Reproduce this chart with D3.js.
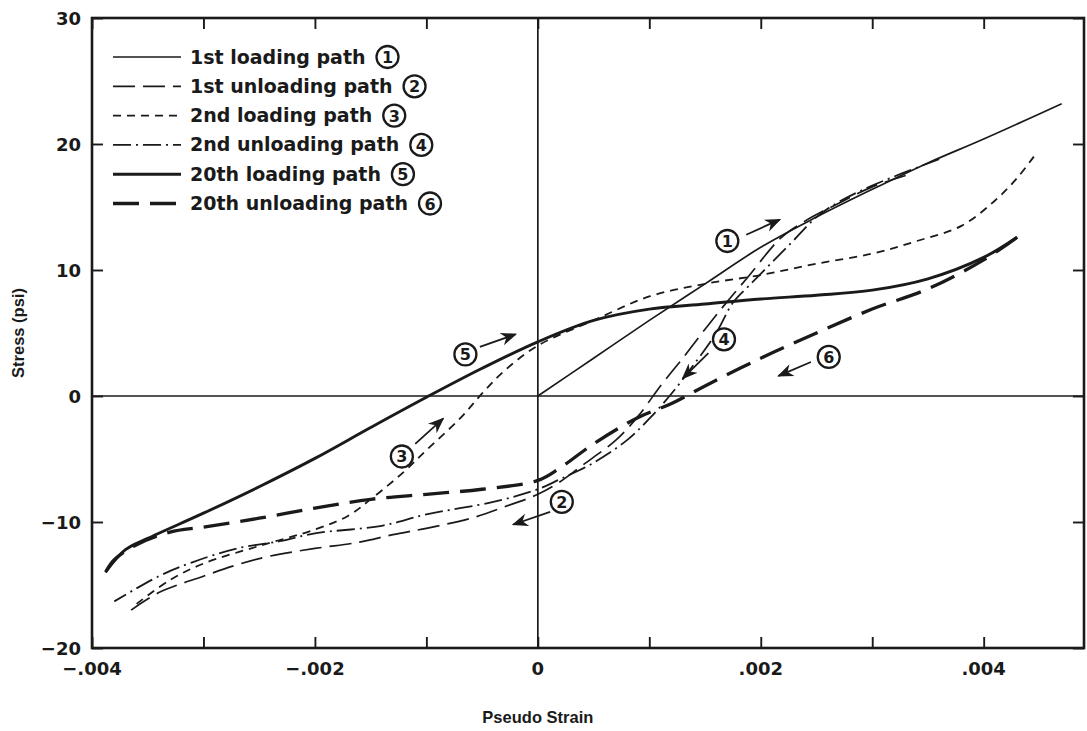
<!DOCTYPE html>
<html><head><meta charset="utf-8">
<script src="https://cdn.jsdelivr.net/npm/d3@7/dist/d3.min.js"></script>
<style>
body{margin:0;background:#fff;}
text{font-family:"DejaVu Sans","Liberation Sans",Arial,sans-serif;font-weight:bold;fill:#1a1a1a;}
text.title{font-family:"Liberation Sans",Arial,sans-serif;}
</style></head><body>
<svg id="c" width="1087" height="731"></svg>
<script>
// ---- data (strain, stress psi) ----
const load1   = [[0,0],[0.0005,3.0],[0.001,6.0],[0.0015,8.9],[0.002,11.8],[0.0025,14.2],[0.003,16.4],[0.0035,18.5],[0.004,20.4],[0.0047,23.2]];
const unload1 = [[0.0033,17.5],[0.003,16.6],[0.0027,15.3],[0.0024,13.9],[0.0022,12.7],[0.0021,11.8],[0.0019,9.6],[0.0017,7.5],[0.0015,5.3],[0.0013,3.0],[0.0011,0.8],[0.0009,-1.6],[0.0007,-3.5],[0.0004,-5.5],[0.0002,-6.8],[0,-7.8],[-0.0003,-8.8],[-0.0006,-9.7],[-0.001,-10.5],[-0.0013,-11.0],[-0.0016,-11.6],[-0.002,-12.1],[-0.0024,-12.7],[-0.0027,-13.4],[-0.003,-14.3],[-0.0034,-15.6],[-0.00365,-17.0]];
const load2   = [[-0.0036,-16.5],[-0.0033,-14.6],[-0.003,-13.3],[-0.0025,-11.9],[-0.002,-10.6],[-0.0017,-9.5],[-0.0015,-8.2],[-0.0012,-6.0],[-0.001,-4.3],[-0.0007,-1.8],[-0.0005,0.2],[-0.0003,2.0],[0,4.0],[0.0005,6.0],[0.001,7.9],[0.0015,8.9],[0.002,9.6],[0.0025,10.5],[0.003,11.3],[0.0034,12.3],[0.0038,13.5],[0.0041,15.5],[0.0043,17.3],[0.00445,19.0]];
const unload2 = [[0.0036,18.8],[0.003,16.7],[0.0027,15.4],[0.0025,14.2],[0.0023,12.4],[0.0021,10.6],[0.0019,8.8],[0.00175,7.4],[0.0016,5.0],[0.0014,2.5],[0.0012,0.2],[0.001,-1.8],[0.0008,-3.5],[0.0005,-5.3],[0.0002,-6.6],[0,-7.4],[-0.0004,-8.4],[-0.001,-9.4],[-0.0014,-10.3],[-0.002,-10.9],[-0.0023,-11.5],[-0.0027,-12.1],[-0.0031,-13.2],[-0.0034,-14.3],[-0.0038,-16.3]];
const load20  = [[-0.00388,-14.0],[-0.0037,-12.2],[-0.0035,-11.3],[-0.003,-9.3],[-0.0025,-7.2],[-0.002,-4.95],[-0.0015,-2.5],[-0.001,-0.1],[-0.0005,2.2],[0,4.3],[0.0005,6.0],[0.001,6.9],[0.0015,7.3],[0.002,7.7],[0.0025,8.0],[0.003,8.4],[0.0035,9.3],[0.004,11.0],[0.0043,12.6]];
const unload20= [[0.0043,12.6],[0.004,10.8],[0.0035,8.5],[0.003,6.9],[0.0025,5.0],[0.002,3.0],[0.0015,0.8],[0.0012,-0.6],[0.0009,-1.7],[0.0005,-3.8],[0.0002,-5.7],[0,-6.7],[-0.0005,-7.4],[-0.001,-7.8],[-0.0015,-8.2],[-0.002,-8.9],[-0.0025,-9.7],[-0.003,-10.4],[-0.0033,-10.8],[-0.0036,-11.8],[-0.0038,-13.0],[-0.00388,-14.0]];

const seriesNames = ["1st loading path","1st unloading path","2nd loading path","2nd unloading path","20th loading path","20th unloading path"];
const seriesData  = [load1, unload1, load2, unload2, load20, unload20];
const numbers = ["1","2","3","4","5","6"];

// annotation label positions (data units) and arrows [from, to]
const labelPos = [[0.0017,12.3],[0.000215,-8.4],[-0.00122,-4.8],[0.00167,4.5],[-0.00065,3.3],[0.00261,3.1]];
const arrowFrom = [[0.00187,12.8],[0.00011,-9.2],[-0.0011,-3.8],[0.00153,3.4],[-0.00052,3.9],[0.00245,2.7]];
const arrowTo   = [[0.00217,14.0],[-0.00022,-10.2],[-0.00085,-1.8],[0.0013,1.4],[-0.0002,4.9],[0.00216,1.6]];

const xTicks = [-0.004,-0.002,0,0.002,0.004];
const xTickLabels = ["\u2212.004","\u2212.002","0",".002",".004"];
const xMinor = [-0.004,-0.003,-0.002,-0.001,0,0.001,0.002,0.003,0.004];
const yTicks = [-20,-10,0,10,20,30];
const yTickLabels = ["\u221220","\u221210","0","10","20","30"];

// ---- styles ----
const styles = [
  {w:1.7, dash:null},
  {w:1.7, dash:"22,8"},
  {w:1.8, dash:"8,6"},
  {w:1.8, dash:"18,5,2,5"},
  {w:2.9, dash:null},
  {w:3.3, dash:"26,11"}
];

const svg = d3.select("#c");
const L=92, R=1084, T=18, B=648;
const x = d3.scaleLinear().domain([-0.004,0.0049]).range([L,R]);
const y = d3.scaleLinear().domain([-20,30]).range([B,T]);
const ink = "#1a1a1a";

// zero lines
svg.append("line").attr("x1",L).attr("x2",R).attr("y1",y(0)).attr("y2",y(0)).attr("stroke",ink).attr("stroke-width",1.7);
svg.append("line").attr("x1",x(0)).attr("x2",x(0)).attr("y1",T).attr("y2",B).attr("stroke",ink).attr("stroke-width",1.7);

// ticks via axes
const xb = d3.axisBottom(x).tickValues(xMinor).tickSizeInner(-11).tickSizeOuter(0).tickFormat("");
const xt = d3.axisTop(x).tickValues(xMinor).tickSizeInner(-11).tickSizeOuter(0).tickFormat("");
const yl = d3.axisLeft(y).tickValues(yTicks).tickSizeInner(-11).tickSizeOuter(0).tickFormat("");
const yr = d3.axisRight(y).tickValues(yTicks).tickSizeInner(-11).tickSizeOuter(0).tickFormat("");
[[xb,`translate(0,${B})`],[xt,`translate(0,${T})`],[yl,`translate(${L},0)`],[yr,`translate(${R},0)`]].forEach(([a,t])=>{
  const g = svg.append("g").attr("transform",t).call(a);
  g.select(".domain").remove();
  g.selectAll("line").attr("stroke",ink).attr("stroke-width",1.9);
});
// frame
svg.append("rect").attr("x",L).attr("y",T).attr("width",R-L).attr("height",B-T).attr("fill","none").attr("stroke",ink).attr("stroke-width",2.6);

// tick labels
svg.append("g").selectAll("text").data(xTicks).join("text")
  .attr("x",d=>x(d)).attr("y",B+27).attr("text-anchor","middle").attr("font-size",18)
  .text((d,i)=>xTickLabels[i]);
svg.append("g").selectAll("text").data(yTicks).join("text")
  .attr("x",L-11).attr("y",d=>y(d)+6.5).attr("text-anchor","end").attr("font-size",18)
  .text((d,i)=>yTickLabels[i]);

// axis titles
svg.append("text").attr("class","title").attr("x",x(0)).attr("y",723).attr("text-anchor","middle").attr("font-size",16.5).text("Pseudo Strain");
svg.append("text").attr("class","title").attr("transform",`translate(24,${y(5)}) rotate(-90)`).attr("text-anchor","middle").attr("font-size",16.5).text("Stress (psi)");

// curves
const line = d3.line().x(d=>x(d[0])).y(d=>y(d[1])).curve(d3.curveCatmullRom.alpha(0.5));
seriesData.forEach((s,i)=>{
  svg.append("path").attr("d",line(s)).attr("fill","none").attr("stroke",ink)
    .attr("stroke-width",styles[i].w).attr("stroke-dasharray",styles[i].dash).attr("stroke-linecap","butt");
});

// legend
const lg = svg.append("g");
seriesNames.forEach((n,i)=>{
  const yy = 57 + i*29.3;
  lg.append("line").attr("x1",113).attr("x2",181).attr("y1",yy).attr("y2",yy).attr("stroke",ink)
    .attr("stroke-width",styles[i].w).attr("stroke-dasharray",styles[i].dash);
  const t = lg.append("text").attr("x",190).attr("y",yy+6.5).attr("font-size",19).text(n);
  const bw = t.node().getComputedTextLength();
  const cx = 190 + bw + 22;
  lg.append("circle").attr("cx",cx).attr("cy",yy).attr("r",11).attr("fill","none").attr("stroke",ink).attr("stroke-width",2.3);
  lg.append("text").attr("x",cx).attr("y",yy+6).attr("text-anchor","middle").attr("font-size",16).text(numbers[i]);
});

// annotations
const defs = svg.append("defs");
defs.append("marker").attr("id","ah").attr("viewBox","0 0 10 10").attr("refX",9).attr("refY",5)
  .attr("markerWidth",9).attr("markerHeight",9).attr("orient","auto")
  .append("path").attr("d","M0,1 L10,5 L0,9 L3,5 Z").attr("fill",ink);
labelPos.forEach((p,i)=>{
  svg.append("circle").attr("cx",x(p[0])).attr("cy",y(p[1])).attr("r",11).attr("fill","#fff").attr("stroke",ink).attr("stroke-width",2.3);
  svg.append("text").attr("x",x(p[0])).attr("y",y(p[1])+6).attr("text-anchor","middle").attr("font-size",16).text(numbers[i]);
  svg.append("line").attr("x1",x(arrowFrom[i][0])).attr("y1",y(arrowFrom[i][1]))
    .attr("x2",x(arrowTo[i][0])).attr("y2",y(arrowTo[i][1])).attr("stroke",ink).attr("stroke-width",1.8)
    .attr("marker-end","url(#ah)");
});
</script></body></html>
